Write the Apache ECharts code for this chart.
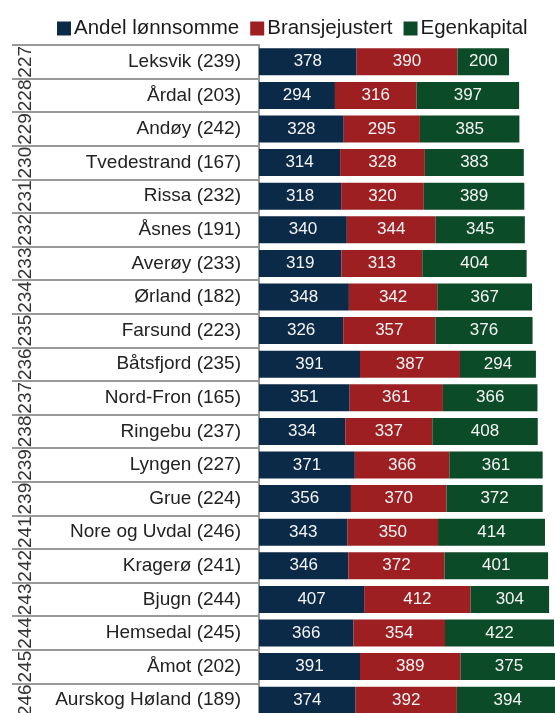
<!DOCTYPE html>
<html>
<head>
<meta charset="utf-8">
<script src="https://cdn.jsdelivr.net/npm/echarts@6/dist/echarts.min.js"></script>
<style>
  html, body { margin: 0; padding: 0; background: #fff; }
  #chart { width: 555px; height: 713px; }
</style>
</head>
<body>
<div id="chart"></div>
<script>
const ranks = ['227', '228', '229', '230', '231', '232', '233', '234', '235', '236',
  '237', '238', '239', '239', '241', '242', '243', '244', '245', '246'];
const names = ['Leksvik (239)', 'Årdal (203)', 'Andøy (242)', 'Tvedestrand (167)', 'Rissa (232)',
  'Åsnes (191)', 'Averøy (233)', 'Ørland (182)', 'Farsund (223)', 'Båtsfjord (235)',
  'Nord-Fron (165)', 'Ringebu (237)', 'Lyngen (227)', 'Grue (224)', 'Nore og Uvdal (246)',
  'Kragerø (241)', 'Bjugn (244)', 'Hemsedal (245)', 'Åmot (202)', 'Aurskog Høland (189)'];
const lonnsomme = [378, 294, 328, 314, 318, 340, 319, 348, 326, 391, 351, 334, 371, 356, 343, 346, 407, 366, 391, 374];
const bransje = [390, 316, 295, 328, 320, 344, 313, 342, 357, 387, 361, 337, 366, 370, 350, 372, 412, 354, 389, 392];
const egenkapital = [200, 397, 385, 383, 389, 345, 404, 367, 376, 294, 366, 408, 361, 372, 414, 401, 304, 422, 375, 394];

const font = 'Liberation Sans, Arial, sans-serif';
const chart = echarts.init(document.getElementById('chart'));

// one stacked bar series per component
const makeSeries = (name, data, color) => ({
  name,
  type: 'bar',
  stack: 'total',
  data,
  barWidth: 27,
  itemStyle: { color },
  label: {
    show: true,
    position: 'inside',
    color: '#f4f4f4',
    fontSize: 17,
    fontFamily: font
  }
});

chart.setOption({
  animation: false,
  legend: {
    top: 13,
    left: 52,
    itemWidth: 14,
    itemHeight: 14,
    itemGap: 11,
    icon: 'rect',
    textStyle: { fontSize: 20.5, color: '#1a1a1a', fontFamily: font, padding: [0, 0, 0, -2] }
  },
  grid: { left: 259, top: 45, width: 310, height: 672, outerBoundsMode: 'none' },
  xAxis: { type: 'value', min: 0, max: 1200, show: false },
  yAxis: [
    {
      type: 'category',
      inverse: true,
      data: names,
      axisLine: { show: true, lineStyle: { color: '#999', width: 2 } },
      axisTick: { show: true, length: 247, lineStyle: { color: '#999', width: 2 } },
      axisLabel: { interval: 0, margin: 18, fontSize: 19, color: '#222', fontFamily: font }
    },
    {
      type: 'category',
      inverse: true,
      position: 'left',
      data: ranks,
      axisLine: { show: false },
      axisTick: { show: false },
      axisLabel: { interval: 0, rotate: 90, margin: 224, fontSize: 19, color: '#333', fontFamily: font }
    }
  ],
  series: [
    makeSeries('Andel lønnsomme', lonnsomme, '#0b2a48'),
    makeSeries('Bransjejustert', bransje, '#9e1f22'),
    makeSeries('Egenkapital', egenkapital, '#0c4b27')
  ]
});
</script>
</body>
</html>
